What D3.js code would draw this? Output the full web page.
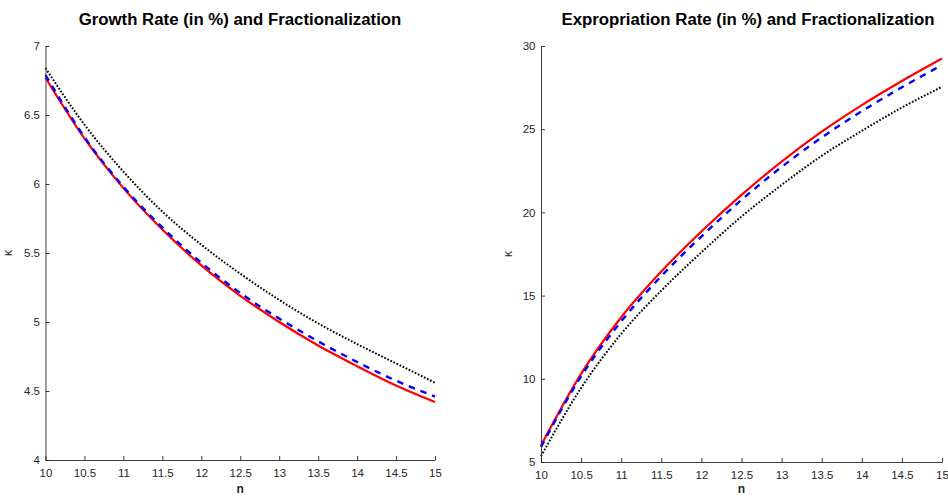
<!DOCTYPE html>
<html><head><meta charset="utf-8">
<script src="https://cdn.jsdelivr.net/npm/d3@7"></script>
<style>body{margin:0;background:#fff}svg{display:block}</style>
</head><body><svg id="c" width="948" height="496"></svg>
<script>
const nVals = [10, 10.5, 11, 11.5, 12, 12.5, 13, 13.5, 14, 14.5, 15];
// Growth rate (in %)
const growthDotted = [6.84, 6.43, 6.09, 5.80, 5.56, 5.35, 5.16, 4.99, 4.84, 4.70, 4.56];
const growthDashed = [6.79, 6.34, 5.98, 5.685, 5.43, 5.21, 5.025, 4.86, 4.71, 4.575, 4.46];
const growthSolid  = [6.77, 6.33, 5.97, 5.67, 5.41, 5.19, 5.00, 4.83, 4.68, 4.54, 4.42];
// Expropriation rate (in %)
const exprDotted = [5.35, 9.45, 12.7, 15.3, 17.6, 19.75, 21.65, 23.4, 24.9, 26.3, 27.55];
const exprDashed = [5.9, 10.15, 13.45, 16.17, 18.55, 20.75, 22.73, 24.5, 26.08, 27.52, 28.85];
const exprSolid  = [6.0, 10.3, 13.7, 16.45, 18.85, 21.05, 23.05, 24.85, 26.45, 27.9, 29.25];

const xTicks = [10, 10.5, 11, 11.5, 12, 12.5, 13, 13.5, 14, 14.5, 15];
const yTicksLeft = [4, 4.5, 5, 5.5, 6, 6.5, 7];
const yTicksRight = [5, 10, 15, 20, 25, 30];
const titles = ["Growth Rate (in %) and Fractionalization", "Expropriation Rate (in %) and Fractionalization"];
const xLabel = "n";
const yLabel = "κ";

const svg = d3.select("#c");
const axisColor = "#262626";
const font = "Liberation Sans, Arial, sans-serif";

function panel(cfg) {
  const x = d3.scaleLinear().domain([10, 15]).range([cfg.x0, cfg.x1]);
  const y = d3.scaleLinear().domain(cfg.ydom).range([cfg.y0, cfg.y1]);
  const g = svg.append("g");

  const line = d3.line().x((d, i) => x(nVals[i])).y(d => y(d)).curve(d3.curveMonotoneX);
  g.append("path").attr("d", line(cfg.dotted)).attr("fill", "none")
    .attr("stroke", "#000").attr("stroke-width", 2).attr("stroke-dasharray", "1.7,1.7");
  g.append("path").attr("d", line(cfg.solid)).attr("fill", "none")
    .attr("stroke", "#ff0000").attr("stroke-width", 2.2);
  g.append("path").attr("d", line(cfg.dashed)).attr("fill", "none")
    .attr("stroke", "#0000ff").attr("stroke-width", 2.4).attr("stroke-dasharray", "6.5,6");

  const xa = g.append("g").attr("transform", `translate(0,${cfg.y0})`)
    .call(d3.axisBottom(x).tickValues(xTicks).tickFormat(d3.format("")).tickSizeInner(-4).tickSizeOuter(0).tickPadding(9));
  const ya = g.append("g").attr("transform", `translate(${cfg.x0},0)`)
    .call(d3.axisLeft(y).tickValues(cfg.yticks).tickFormat(d3.format("")).tickSizeInner(-4).tickSizeOuter(0).tickPadding(5.5));
  [xa, ya].forEach(a => {
    a.select(".domain").attr("stroke", axisColor).attr("stroke-width", 0.9);
    a.selectAll(".tick line").attr("stroke", axisColor).attr("stroke-width", 0.9);
    a.selectAll(".tick text").attr("fill", axisColor).style("font-family", font).style("font-size", "11.5px");
  });

  g.append("text").attr("x", cfg.tx).attr("y", 25)
    .attr("text-anchor", "middle").style("font-family", font)
    .style("font-weight", "bold").style("font-size", "16.8px").attr("fill", "#000").text(cfg.title);
  g.append("text").attr("x", (cfg.x0 + cfg.x1) / 2).attr("y", 493)
    .attr("text-anchor", "middle").style("font-family", font)
    .style("font-weight", "bold").style("font-size", "12px").attr("fill", axisColor).text(xLabel);
  g.append("text").attr("transform", `translate(${cfg.ylx},${(cfg.y0 + cfg.y1) / 2}) rotate(-90)`)
    .attr("text-anchor", "middle").style("font-family", font)
    .style("font-size", "12px").attr("fill", axisColor).text(yLabel);
}

panel({x0: 45.5, x1: 435, y0: 460, y1: 46, ydom: [4, 7], yticks: yTicksLeft,
  dotted: growthDotted, dashed: growthDashed, solid: growthSolid, title: titles[0], tx: 240, ylx: 12});
panel({x0: 541, x1: 942, y0: 462, y1: 46, ydom: [5, 30], yticks: yTicksRight,
  dotted: exprDotted, dashed: exprDashed, solid: exprSolid, title: titles[1], tx: 748, ylx: 512});
</script></body></html>
